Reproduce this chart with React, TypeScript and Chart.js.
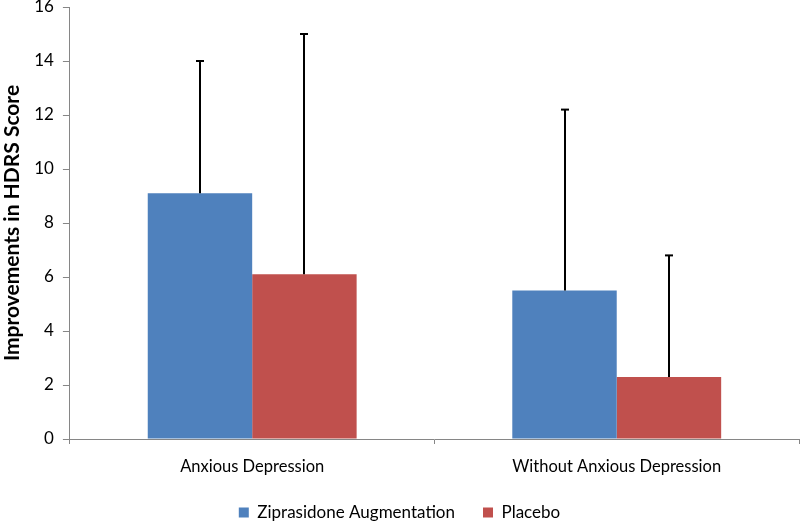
import React, { useEffect, useRef } from "react";
import { Chart, registerables } from "chart.js";

Chart.register(...registerables);

const categories = ["Anxious Depression", "Without Anxious Depression"];
const seriesNames = ["Ziprasidone Augmentation", "Placebo"];
const zipValues = [9.1, 5.5];
const placeboValues = [6.1, 2.3];
const zipErrors = [4.9, 6.7];
const placeboErrors = [8.9, 4.5];
const yTicks = [0, 2, 4, 6, 8, 10, 12, 14, 16];

const errorBarPlugin = {
  id: "errorBars",
  afterDatasetsDraw(chart: any) {
    const ctx = chart.ctx;
    const yScale = chart.scales.y;
    chart.data.datasets.forEach((ds: any, i: number) => {
      const meta = chart.getDatasetMeta(i);
      const errs: number[] = ds.errors || [];
      meta.data.forEach((bar: any, j: number) => {
        const v = ds.data[j];
        const top = yScale.getPixelForValue(v + errs[j]);
        const x = Math.round(bar.x);
        ctx.save();
        ctx.strokeStyle = "#000000";
        ctx.lineWidth = 2;
        ctx.beginPath();
        ctx.moveTo(x, bar.y);
        ctx.lineTo(x, top);
        ctx.stroke();
        ctx.beginPath();
        ctx.moveTo(x - 4, top);
        ctx.lineTo(x + 4, top);
        ctx.stroke();
        ctx.restore();
      });
    });
  },
};

// After layout: move the legend box lower and let the x axis label area extend down
const layoutTweakPlugin = {
  id: "layoutTweak",
  afterLayout(chart: any) {
    const lg = chart.legend;
    if (lg) {
      const h = lg.bottom - lg.top;
      lg.top = 476;
      lg.bottom = 476 + h;
      if (typeof lg.adjustHitBoxes === "function") lg.adjustHitBoxes();
    }
    const xs = chart.scales.x;
    if (xs) {
      xs.bottom = xs.top + 50;
      xs.height = 50;
    }
  },
};

export default function App() {
  const ref = useRef<HTMLCanvasElement>(null);
  useEffect(() => {
    if (!ref.current) return;
    const font = "Lato, 'Open Sans', sans-serif";
    const chart = new Chart(ref.current, {
      type: "bar",
      data: {
        labels: categories,
        datasets: [
          {
            label: seriesNames[0],
            data: zipValues,
            errors: zipErrors,
            backgroundColor: "#4f81bd",
            borderWidth: 0,
          } as any,
          {
            label: seriesNames[1],
            data: placeboValues,
            errors: placeboErrors,
            backgroundColor: "#c0504d",
            borderWidth: 0,
          } as any,
        ],
      },
      options: {
        animation: false,
        responsive: false,
        maintainAspectRatio: false,
        layout: { padding: { top: 7, right: 1, left: 0, bottom: 0 } },
        datasets: { bar: { categoryPercentage: 0.573, barPercentage: 1 } },
        plugins: {
          tooltip: { enabled: false },
          legend: {
            position: "bottom",
            labels: {
              boxWidth: 10,
              boxHeight: 10,
              padding: 28,
              color: "#000",
              font: { family: font, size: 17 },
            },
          },
        },
        scales: {
          x: {
            afterFit: (axis: any) => {
              axis.height = 29;
            },
            grid: {
              offset: true,
              drawOnChartArea: false,
              drawTicks: true,
              tickLength: 5,
              color: "#868686",
            },
            border: { color: "#868686", width: 1 },
            ticks: { color: "#000", font: { family: font, size: 16.5 }, padding: 13 },
          },
          y: {
            min: 0,
            max: 16,
            afterBuildTicks: (axis: any) => {
              axis.ticks = yTicks.map((v) => ({ value: v }));
            },
            afterFit: (axis: any) => {
              axis.paddingTop = 0;
              axis.paddingBottom = 0;
            },
            grid: {
              drawOnChartArea: false,
              drawTicks: true,
              tickLength: 7,
              color: "#868686",
            },
            border: { color: "#868686", width: 1 },
            ticks: { color: "#000", font: { family: font, size: 17 }, padding: 9 },
            title: {
              display: true,
              text: "Improvements in HDRS Score",
              color: "#000",
              font: { family: font, size: 21, weight: "bold" },
              padding: { top: 0, bottom: 0 },
            },
          },
        },
      } as any,
      plugins: [errorBarPlugin, layoutTweakPlugin],
    });
    return () => chart.destroy();
  }, []);
  return (
    <div style={{ position: "fixed", left: 0, top: 0, width: 800, height: 523, background: "#fff" }}>
      <canvas ref={ref} width={800} height={523} style={{ display: "block", width: 800, height: 523 }} />
    </div>
  );
}
